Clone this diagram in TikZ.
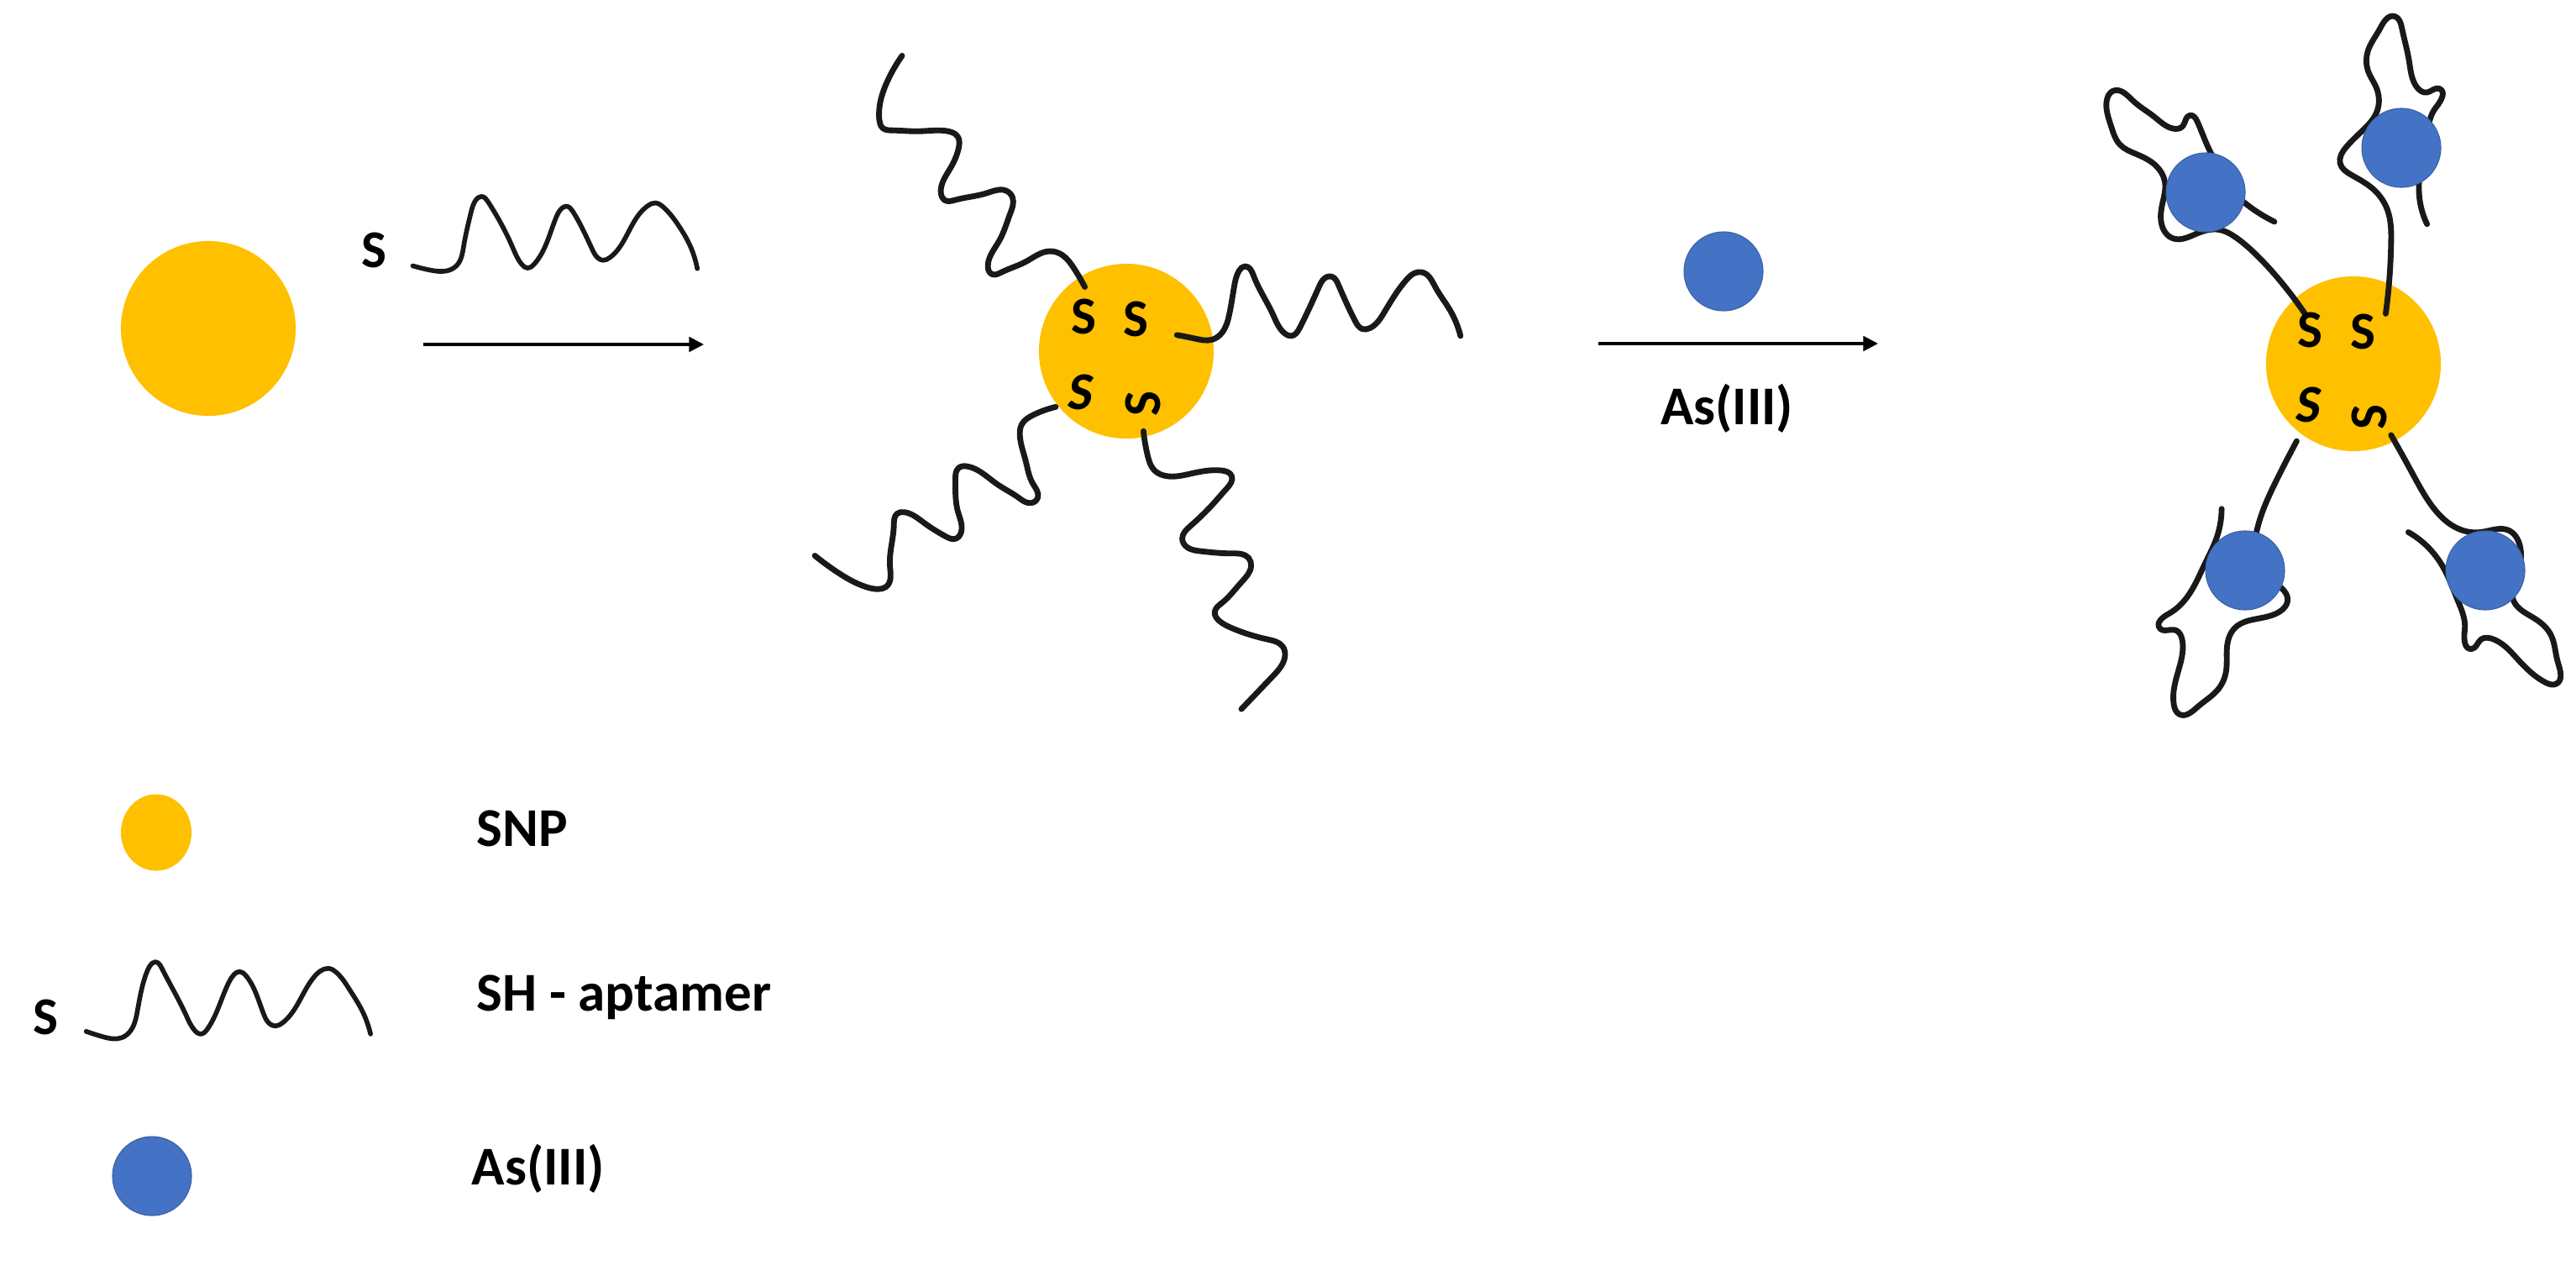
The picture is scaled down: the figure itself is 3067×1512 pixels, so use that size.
\documentclass[tikz,border=0pt]{standalone}
\usepackage{fontspec}
\setmainfont{Carlito}
\usetikzlibrary{arrows.meta,shapes.geometric,hobby}
\definecolor{snpyellow}{HTML}{FFC000}
\definecolor{asblue}{HTML}{4472C4}
\tikzset{
  strand/.style={draw=black!90,line width=1.95pt,line cap=round,line join=round,use Hobby shortcut},
  thinstrand/.style={draw=black!90,line width=1.6pt,line cap=round,line join=round,use Hobby shortcut},
  snp/.style={circle,fill=snpyellow,inner sep=0pt,outer sep=0pt,minimum size=2.08cm},
  asball/.style={circle,fill=asblue,draw=asblue!85!black,line width=0.3pt,inner sep=0pt,outer sep=0pt,minimum size=0.94cm},
  label/.style={inner sep=0pt,anchor=base west,font=\fontsize{18.5}{22}\selectfont\bfseries},
  sulfur/.style={inner sep=0pt,font=\fontsize{18}{20}\selectfont\bfseries},
  reaction/.style={line width=0.9pt,-{Triangle[length=5pt,width=5pt]}},
}
\begin{document}
\begin{tikzpicture}[x=0.01cm,y=-0.01cm]
\useasboundingbox (0,0) rectangle (3067,1512);

% first particle and reagent
\node[snp] (p1) at (248,391) {};
\node[sulfur] (s0) at (445,298) {S};
\begin{scope}[shift={(-2,180)},x=0.00577cm,y=-0.00333cm]
\draw[thinstrand] (855,410)..(890,425)..(925,428)..(945,410)..(960,340)..(975,220)..(985,175)..(997,162)..(1010,180)..(1060,340)..(1080,405)..(1092,418)..(1105,405)..(1150,240)..(1162,205)..(1172,197)..(1185,215)..(1225,350)..(1237,382)..(1247,390)..(1262,380)..(1320,230)..(1340,195)..(1355,185)..(1372,200)..(1405,270)..(1425,330)..(1442,420);
\end{scope}
\coordinate (a1s) at (504,410);
\coordinate (a1e) at (838,410);
\draw[reaction] (a1s) -- (a1e);

% functionalised particle
\node[snp] (p2) at (1341,418) {};
\begin{scope}[shift={(898,20)},x=0.00577cm,y=-0.00545cm]
\draw[strand] (305,85)..(275,140)..(258,225)..(265,243)..(285,248)..(340,250)..(400,250)..(420,262)..(422,285)..(405,330)..(385,385)..(392,400)..(415,400)..(480,385)..(520,380)..(533,395)..(528,430)..(505,490)..(482,545)..(490,562)..(510,558)..(560,535)..(610,512)..(635,520)..(660,550)..(682,590);
\draw[strand] (872,695)..(910,703)..(945,705)..(965,690)..(980,650)..(990,590)..(1000,555)..(1012,545)..(1030,565)..(1070,650)..(1095,692)..(1108,697)..(1125,680)..(1165,590)..(1178,570)..(1190,567)..(1205,585)..(1240,665)..(1255,682)..(1270,680)..(1300,645)..(1345,575)..(1362,560)..(1378,558)..(1405,590)..(1435,640)..(1457,697);
\draw[strand] (622,852)..(575,870)..(552,890)..(548,915)..(560,970)..(575,1020)..(585,1050)..(570,1062)..(545,1050)..(500,1020)..(440,982)..(422,985)..(415,1010)..(420,1080)..(427,1125)..(415,1140)..(395,1135)..(350,1105)..(310,1082)..(295,1085)..(288,1110)..(280,1200)..(272,1245)..(255,1250)..(230,1245)..(170,1212)..(125,1177);
\draw[strand] (803,905)..(812,960)..(825,990)..(850,1003)..(900,998)..(965,991)..(985,1003)..(975,1030)..(950,1060)..(900,1112)..(883,1140)..(895,1160)..(920,1167)..(985,1172)..(1020,1182)..(1025,1200)..(1005,1235)..(965,1280)..(950,1300)..(960,1320)..(985,1335)..(1060,1360)..(1090,1375)..(1095,1395)..(1070,1440)..(1005,1512);
\node[sulfur] (s1) at (680,655) {S};
\node[sulfur] (s2) at (787,660) {S};
\node[sulfur,xslant=0.15] (s3) at (675,820) {S};
\node[sulfur,rotate=90] (s4) at (803,845) {S};
\end{scope}

% second reaction arrow
\node[asball] (b0) at (2052,323) {};
\coordinate (a2s) at (1903,409);
\coordinate (a2e) at (2236,409);
\draw[reaction] (a2s) -- (a2e);
\node[label,anchor=base] (as1) at (2056,505) {As(III)};

% aggregated particle
\node[snp] (p3) at (2802,433) {};
\begin{scope}[shift={(2398,0)},x=0.004274cm,y=-0.005556cm]
\draw[strand] (810,672)..(750,610)..(680,550)..(620,510)..(570,492)..(510,500)..(440,510)..(415,490)..(412,440)..(420,390)..(395,355)..(340,330)..(295,310)..(270,270)..(258,215)..(275,195)..(330,215)..(390,250)..(440,275)..(470,270)..(490,247)..(510,260)..(540,315)..(570,360)..(610,410)..(660,445)..(725,475);
\draw[strand] (1035,672)..(1045,600)..(1050,520)..(1040,450)..(1000,405)..(940,375)..(908,350)..(925,315)..(970,280)..(1010,240)..(1010,190)..(985,150)..(985,110)..(1020,60)..(1060,35)..(1080,60)..(1100,130)..(1120,185)..(1150,198)..(1185,190)..(1175,230)..(1150,285)..(1130,370)..(1130,430)..(1150,480);
\draw[strand] (787,945)..(730,1030)..(690,1100)..(670,1160)..(680,1220)..(745,1260)..(762,1285)..(740,1310)..(680,1325)..(615,1345)..(595,1375)..(590,1440)..(570,1475)..(510,1515)..(460,1530)..(445,1510)..(460,1430)..(468,1370)..(450,1350)..(405,1345)..(430,1315)..(490,1270)..(530,1210)..(565,1150)..(578,1090);
\draw[strand] (1050,932)..(1110,1015)..(1170,1090)..(1230,1130)..(1300,1140)..(1380,1137)..(1405,1160)..(1405,1220)..(1390,1285)..(1450,1325)..(1495,1360)..(1515,1420)..(1510,1465)..(1480,1462)..(1400,1410)..(1330,1368)..(1300,1370)..(1275,1390)..(1255,1350)..(1235,1285)..(1195,1215)..(1150,1170)..(1098,1140);
\node[sulfur] (t1) at (825,708) {S};
\node[sulfur] (t2) at (972,710) {S};
\node[sulfur,xslant=0.15] (t3) at (822,868) {S};
\node[sulfur,rotate=90] (t4) at (990,893) {S};
\end{scope}
\node[asball] (b1) at (2626,229) {};
\node[asball] (b2) at (2859,176) {};
\node[asball] (b3) at (2673,679) {};
\node[asball] (b4) at (2959,679) {};

% legend
\node[ellipse,fill=snpyellow,inner sep=0pt,outer sep=0pt,minimum width=0.84cm,minimum height=0.91cm] (l1) at (186,991) {};
\node[label] (t-snp) at (567,1007) {SNP};
\node[sulfur] (l2s) at (54,1211) {S};
\begin{scope}[shift={(0,900)},x=0.00641cm,y=-0.00385cm]
\draw[thinstrand] (160,852)..(190,868)..(225,872)..(240,855)..(255,790)..(270,680)..(278,650)..(288,637)..(300,655)..(345,800)..(362,850)..(372,860)..(385,845)..(425,700)..(435,675)..(445,667)..(457,680)..(490,800)..(502,830)..(512,835)..(525,825)..(580,690)..(595,665)..(610,657)..(625,670)..(650,725)..(670,780)..(688,860);
\end{scope}
\node[label] (t-apt) at (567,1203) {SH - aptamer};
\node[asball] (l3) at (181,1400) {};
\node[label] (t-as) at (561,1410) {As(III)};
\end{tikzpicture}
\end{document}
